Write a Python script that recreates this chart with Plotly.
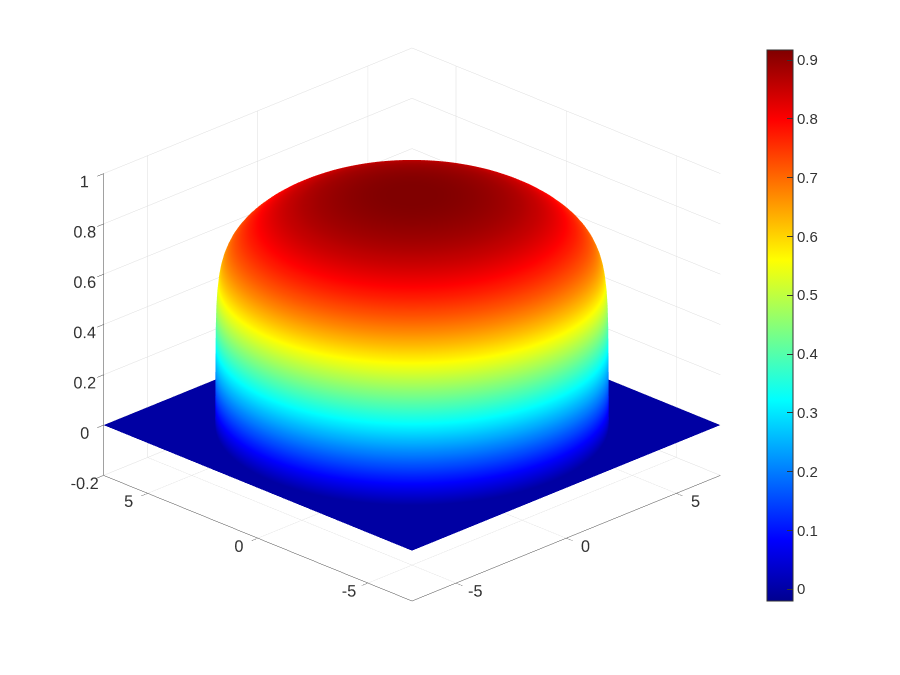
import numpy as np
import plotly.graph_objects as go

# radial profile of the dome
radius = [0.0, 0.5, 1.0, 1.5, 2.0, 2.5, 3.0, 3.5, 4.0, 4.25, 4.5, 4.75, 5.0, 5.25, 5.5, 5.65, 5.8, 5.9, 6.0, 6.08, 6.15, 6.2, 6.25, 6.28, 6.3, 6.31, 6.32]
height = [0.917, 0.916, 0.914, 0.91, 0.904, 0.896, 0.886, 0.872, 0.852, 0.84, 0.826, 0.81, 0.792, 0.771, 0.746, 0.728, 0.706, 0.688, 0.664, 0.64, 0.61, 0.578, 0.525, 0.47, 0.38, 0.22, 0.0]

floor_x = [-7, 7]
floor_y = [-7, 7]
floor_z = [[0, 0], [0, 0]]

angle_deg = list(range(0, 361, 2))
xy_ticks = [-5, 0, 5]
xy_labels = ['-5', '0', '5']
z_ticks = [-0.2, 0, 0.2, 0.4, 0.6, 0.8, 1]
z_labels = ['-0.2', '0', '0.2', '0.4', '0.6', '0.8', '1']
cbar_ticks = [0, 0.1, 0.2, 0.3, 0.4, 0.5, 0.6, 0.7, 0.8, 0.9]
cbar_labels = ['0', '0.1', '0.2', '0.3', '0.4', '0.5', '0.6', '0.7', '0.8', '0.9']

jet = [
    [0, 'rgb(0,0,143)'],
    [0.111, 'rgb(0,0,255)'],
    [0.365, 'rgb(0,255,255)'],
    [0.619, 'rgb(255,255,0)'],
    [0.873, 'rgb(255,0,0)'],
    [1, 'rgb(128,0,0)'],
]
flat = dict(ambient=1, diffuse=0, specular=0, roughness=1, fresnel=0)

r, t = np.meshgrid(radius, np.radians(angle_deg))
dome_x = r * np.cos(t)
dome_y = r * np.sin(t)
dome_z = np.tile(height, (len(angle_deg), 1))

fig = go.Figure()
fig.add_trace(go.Surface(
    x=floor_x, y=floor_y, z=floor_z,
    cmin=-0.02, cmax=0.917, colorscale=jet,
    showscale=False, lighting=flat, hoverinfo='skip',
))
fig.add_trace(go.Surface(
    x=dome_x, y=dome_y, z=dome_z,
    cmin=-0.02, cmax=0.917, colorscale=jet,
    lighting=flat,
    colorbar=dict(
        x=759 / 900, xanchor='left', y=1 - 593 / 675, yanchor='bottom',
        len=551 / 675, lenmode='fraction', thickness=26, thicknessmode='pixels',
        xpad=0, ypad=0,
        tickvals=cbar_ticks, ticktext=cbar_labels,
        ticks='inside', ticklen=6, tickcolor='#333333', tickwidth=1,
        outlinecolor='#333333', outlinewidth=1,
        tickfont=dict(size=15, color='#333333', family='Liberation Sans'),
    ),
))

axis = dict(
    title='',
    showbackground=False,
    showgrid=True, gridcolor='#dddddd', gridwidth=1,
    zeroline=False,
    showline=True, linecolor='#444444', linewidth=1,
    ticks='outside', ticklen=9, tickcolor='#444444', tickwidth=1,
    tickangle=0,
    tickfont=dict(size=14, color='#333333', family='Liberation Sans'),
    showspikes=False,
)

fig.update_layout(
    width=900, height=675,
    paper_bgcolor='white',
    margin=dict(l=0, r=0, t=0, b=0),
    showlegend=False,
    scene=dict(
        domain=dict(x=[0, 808 / 900], y=[1 - 633 / 675, 1]),
        xaxis=dict(axis, range=[-7, 7], tickvals=xy_ticks, ticktext=xy_labels),
        yaxis=dict(axis, range=[-7, 7], tickvals=xy_ticks, ticktext=xy_labels),
        zaxis=dict(axis, range=[-0.2, 1], tickvals=z_ticks, ticktext=z_labels),
        aspectmode='manual',
        aspectratio=dict(x=1.378, y=1.378, z=1.044),
        camera=dict(
            projection=dict(type='orthographic'),
            eye=dict(x=-1.3, y=-1.3, z=0.82),
            center=dict(x=0, y=0, z=0),
            up=dict(x=0, y=0, z=1),
        ),
    ),
)
fig.write_html("out.html")
